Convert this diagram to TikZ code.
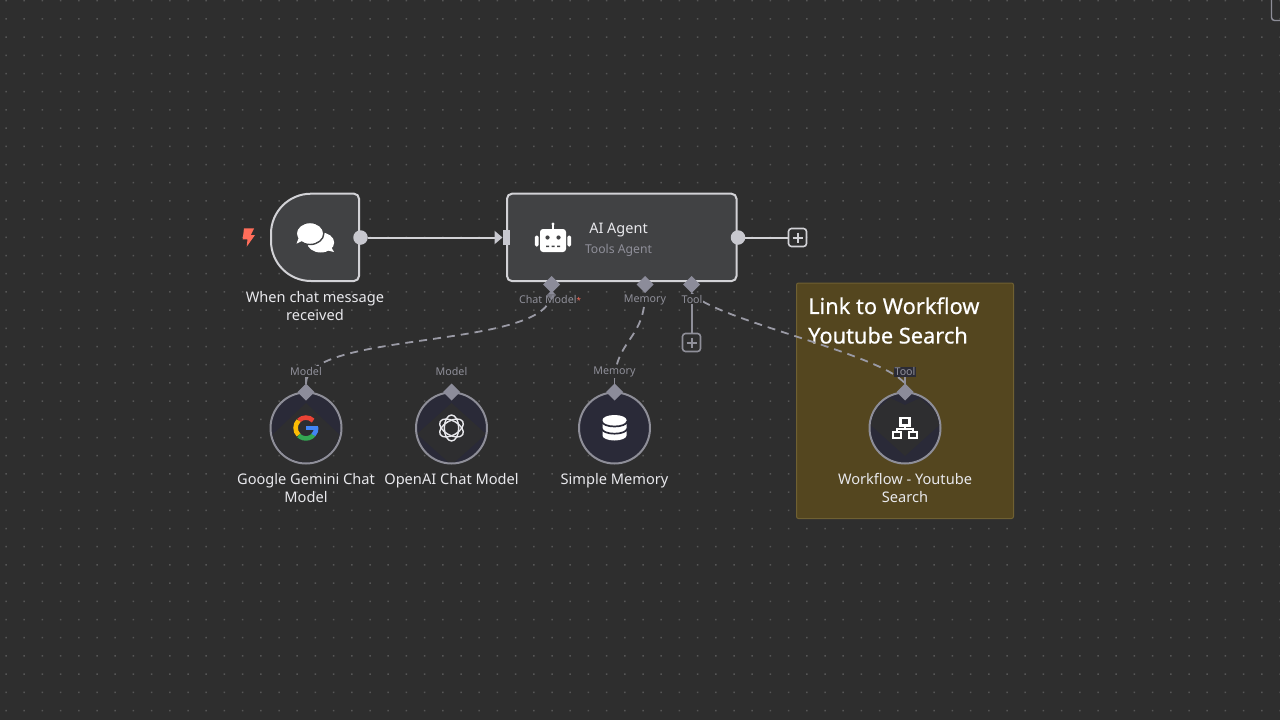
\documentclass[tikz,border=0pt]{standalone}
\usepackage{fontspec}
\setmainfont{Noto Sans}
\newfontfamily\titlefont[FakeBold=0.5]{Noto Sans}
\usetikzlibrary{arrows.meta,shapes.geometric,calc}
\definecolor{bgc}{HTML}{2E2E2E}
\definecolor{griddot}{HTML}{565656}
\definecolor{nodefill}{HTML}{414244}
\definecolor{nodeline}{HTML}{D2D2D6}
\definecolor{portc}{HTML}{C8C8CF}
\definecolor{subc}{HTML}{8F8F99}
\definecolor{labc}{HTML}{E8E8EC}
\definecolor{navy}{HTML}{2A2A38}
\definecolor{ringc}{HTML}{8E8E98}
\definecolor{dashc}{HTML}{9A9AA5}
\definecolor{diac}{HTML}{8C8C9A}
\definecolor{stickyf}{HTML}{54461F}
\definecolor{stickyl}{HTML}{6F6032}
\definecolor{darkd}{HTML}{2E2E30}
\definecolor{orangec}{HTML}{FF6D5A}
\tikzset{
  x=1pt,y=-1pt,
  lab/.style={text=labc,align=center,inner sep=0pt,font=\fontsize{14.6}{18}\selectfont},
  portlab/.style={text=subc,inner sep=1pt,fill=bgc,font=\fontsize{10.7}{13}\selectfont},
  mainbox/.style={draw=nodeline,fill=nodefill,line width=2pt,rounded corners=5pt,minimum width=229.5pt,minimum height=87.4pt,inner sep=0pt,outer sep=0pt},
  outport/.style={circle,fill=portc,minimum size=14.5pt,inner sep=0pt,outer sep=0pt},
  inport/.style={rectangle,fill=portc,minimum width=7pt,minimum height=15pt,inner sep=0pt,outer sep=0pt},
  dia/.style={diamond,fill=diac,minimum width=17pt,minimum height=17pt,inner sep=0pt,outer sep=0pt,aspect=1},
  subnode/.style={circle,draw=ringc,fill=navy,line width=2pt,minimum size=71pt,inner sep=0pt,outer sep=0pt},
  plusbox/.style={draw=#1,fill=bgc,line width=1.6pt,rounded corners=3pt,minimum size=18pt,inner sep=0pt,outer sep=0pt},
  solidline/.style={draw=nodeline,line width=2pt},
  toolline/.style={draw=subc,line width=2pt},
  dashline/.style={draw=dashc,line width=1.8pt,dash pattern=on 8pt off 6pt},
}
\begin{document}
\begin{tikzpicture}
\useasboundingbox (0,0) rectangle (1280,720);
\fill[bgc] (0,0) rectangle (1280,720);
% dot grid
\fill[griddot] \foreach \i in {0,...,70} { \foreach \j in {0,...,39} {
  ({6+\i*18.2-0.75},{0.7+\j*18.2-0.75}) rectangle ++(1.5,1.5) } };
% viewport corner
\draw[ringc,line width=1.4pt,rounded corners=3pt] (1271.5,-3) -- (1271.5,20.5) -- (1283,20.5);

% sticky note
\node[draw=stickyl,fill=stickyf,line width=1pt,rounded corners=2pt,minimum width=217pt,minimum height=235.5pt,inner sep=0pt] (sticky) at (905,400.75) {};
\node[anchor=west,inner sep=0pt,text=white,font=\titlefont\fontsize{21.8}{29.5}\selectfont,align=left] (stickytitle) at (808,320.5) {Link to Workflow\\Youtube Search};

% trigger
\fill[nodefill,draw=nodeline,line width=2pt] (311,193.7) -- (354,193.7) arc[start angle=-90,end angle=0,radius=5] -- (359,276) arc[start angle=0,end angle=90,radius=5] -- (311,281) arc[start angle=90,end angle=180,radius=40] -- (271,233.7) arc[start angle=180,end angle=270,radius=40] -- cycle;
\coordinate (trigger) at (315,237.5);
\fill[orangec] (244,228.3) -- (254.2,228.3) -- (250.8,235) -- (255,235) -- (246.7,246.7) -- (247.5,239.3) -- (242.7,239.3) -- cycle;
% chat icon
\fill[white] (320.7,242.5) ellipse[x radius=13.5,y radius=10];
\fill[white] (326,250) -- (334,252) -- (330,245) -- cycle;
\fill[white,draw=nodefill,line width=1.4pt] (310,233.5) ellipse[x radius=13.8,y radius=11];
\fill[white] (302,241) -- (296.5,243.7) -- (299,237) -- cycle;
\node[lab] (triggerlab) at (315,306.5) {When chat message\\received};

% agent
\node[mainbox] (agent) at (621.75,237.4) {};
\node[text=labc,inner sep=0pt,font=\fontsize{14.5}{16}\selectfont] (agentname) at (618.5,230.5) {AI Agent};
\node[text=subc,inner sep=0pt,font=\fontsize{12.2}{14}\selectfont] (agentsub) at (618.5,250.5) {Tools Agent};
% robot icon
\fill[white,rounded corners=3pt] (540,229) rectangle (566,252);
\fill[white,rounded corners=1.5pt] (534.8,235.5) rectangle (538.6,246.5);
\fill[white,rounded corners=1.5pt] (567.4,235.5) rectangle (571.2,246.5);
\fill[white] (551.8,224) rectangle (554.2,229);
\fill[white] (553,224) circle (1.6);
\fill[nodefill] (547.5,237.5) circle (2.1) (558.5,237.5) circle (2.1);
\fill[nodefill] (546,245.5) rectangle (549,247) (551.5,245.5) rectangle (554.5,247) (557,245.5) rectangle (560,247);

% ports on the main row
\node[outport] (tout) at (360.5,237.5) {};
\node[inport] (ain) at (506,237.5) {};
\node[outport] (aout) at (738,237.5) {};
\node[plusbox=nodeline] (plusout) at (797.5,237.5) {};
\node[plusbox=subc] (plustool) at (691.5,342.5) {};
\draw[nodeline,line width=2pt] (792.5,237.5) -- (802.5,237.5) (797.5,232.5) -- (797.5,242.5);
\draw[subc,line width=2pt] (686.5,342.5) -- (696.5,342.5) (691.5,337.5) -- (691.5,347.5);
\draw[solidline,-{Triangle[length=8pt,width=13pt,fill=portc,color=portc]}] (tout) -- (ain);
\draw[solidline] (aout) -- (plusout);

% sub-node circles
\node[subnode] (gem) at (306,428) {};
\node[subnode] (oai) at (451.5,428) {};
\node[subnode] (mem) at (614.5,428) {};
\node[subnode] (wf) at (905,428) {};
\begin{scope}
\clip (306,428) circle (34);
\fill[darkd] (306,403) -- (342,437) -- (342,470) -- (270,470) -- (270,437) -- cycle;
\end{scope}
\begin{scope}
\clip (451.5,428) circle (34);
\fill[darkd] (451.5,403) -- (486,434) -- (451.5,465) -- (417,434) -- cycle;
\end{scope}
\begin{scope}
\clip (905,428) circle (34);
\fill[darkd] (905,405) -- (920,398) -- (945,420) -- (905,456) -- (865,420) -- (890,398) -- cycle;
\end{scope}
% Google G
\begin{scope}[line width=4.6pt]
\draw[color={rgb,255:red,234;green,67;blue,53}] (298.6,420.6) arc[start angle=225,end angle=315,radius=10.3];
\draw[color={rgb,255:red,251;green,188;blue,5}] (298.6,420.6) arc[start angle=225,end angle=135,radius=10.3];
\draw[color={rgb,255:red,52;green,168;blue,83}] (298.6,435.4) arc[start angle=135,end angle=40,radius=10.3];
\draw[color={rgb,255:red,66;green,133;blue,244}] (313.5,435) arc[start angle=43,end angle=-5,radius=10.3];
\end{scope}
\fill[color={rgb,255:red,66;green,133;blue,244}] (306,425.7) rectangle (318.3,430.3);
% OpenAI knot
\begin{scope}[draw=labc,line width=1.4pt]
\draw[rotate around={30:(451.5,428)}] (451.5,428) ellipse[x radius=13,y radius=7.2];
\draw[rotate around={90:(451.5,428)}] (451.5,428) ellipse[x radius=13,y radius=7.2];
\draw[rotate around={150:(451.5,428)}] (451.5,428) ellipse[x radius=13,y radius=7.2];
\end{scope}
% database
\fill[white] (602.5,420) arc[start angle=180,end angle=360,x radius=12,y radius=5] -- (626.5,435.5) arc[start angle=0,end angle=180,x radius=12,y radius=5] -- cycle;
\draw[navy,line width=1.7pt] (602,421.5) arc[start angle=180,end angle=0,x radius=12.5,y radius=5];
\draw[navy,line width=1.7pt] (602,428.7) arc[start angle=180,end angle=0,x radius=12.5,y radius=5];
% network icon
\begin{scope}[draw=white,line width=2.3pt]
\draw (900.5,417.7) rectangle (909.5,425.5);
\draw (892.7,431.7) rectangle (901,438);
\draw (909,431.7) rectangle (917.3,438);
\draw (905,425.5) -- (905,428.7) (896.8,431.7) -- (896.8,428.7) -- (913.2,428.7) -- (913.2,431.7);
\end{scope}

% connectors
\node[dia] (dchat) at (551.5,284.5) {};
\node[dia] (dmem) at (645,284.5) {};
\node[dia] (dtool) at (691.5,284.5) {};
\node[dia] (dgem) at (306,392) {};
\node[dia] (doai) at (451.5,392) {};
\node[dia] (dsim) at (614.5,392) {};
\node[dia] (dwf) at (905,392) {};
\draw[dashline] (dchat.south) .. controls (551.5,350) and (306,330) .. (dgem.north);
\draw[dashline] (dmem.south) .. controls (645,340) and (614.5,340) .. (dsim.north);
\draw[dashline] (dtool.south) .. controls (715,320) and (880,353) .. (dwf.north);
\draw[toolline] (dtool.south) -- (plustool);
\draw[subc,line width=1.4pt] (306,377) -- (dgem.north) (614.5,377) -- (dsim.north) (905,377) -- (dwf.north);
\fill[diac] (dchat.south) ++(-5,3) -- ++(5,-5) -- ++(5,5) -- ++(-5,5) -- cycle;
\fill[diac] (dmem.south) ++(-4,5) -- ++(4,-5) -- ++(4,5) -- cycle;
\fill[diac] (dtool.south) ++(-4,5) -- ++(4,-5) -- ++(4,5) -- cycle;

% port labels
\node[portlab] (lchat) at (550,299.3) {Chat Model\textcolor{orangec}{\fontsize{8}{8}\selectfont *}};
\fill[diac,opacity=0.75] (551.5,290) -- (556,295) -- (551.5,300) -- (547,295) -- cycle;
\node[portlab] (lmem) at (645,299.5) {Memory};
\node[portlab] (ltool) at (692,299.3) {Tool};
\node[portlab] (lgem) at (306,371.5) {Model};
\node[portlab] (loai) at (451.5,371.5) {Model};
\node[portlab] (lsim) at (614.5,372) {Memory};
\node[portlab,fill=navy!70!bgc] (lwf) at (905,371.7) {Tool};

% node names
\node[lab] (gemlab) at (306,488) {Google Gemini Chat\\Model};
\node[lab] (oailab) at (451.5,481) {OpenAI Chat Model};
\node[lab] (memlab) at (614.5,481) {Simple Memory};
\node[lab] (wflab) at (905,488) {Workflow - Youtube\\Search};
\end{tikzpicture}
\end{document}
